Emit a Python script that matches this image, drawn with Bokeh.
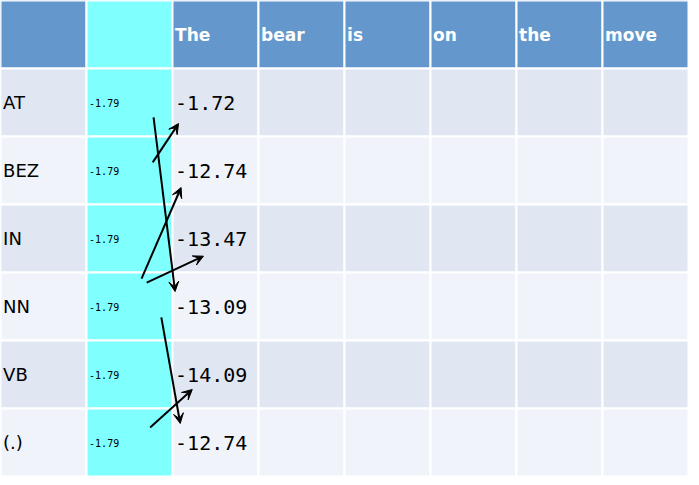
from bokeh.plotting import figure
from bokeh.models import Arrow, VeeHead
from bokeh.embed import file_html
from bokeh.resources import INLINE
from bokeh.core.properties import value

words = ["The", "bear", "is", "on", "the", "move"]
tags = ["AT", "BEZ", "IN", "NN", "VB", "(.)"]
start = [-1.79, -1.79, -1.79, -1.79, -1.79, -1.79]
the_scores = [-1.72, -12.74, -13.47, -13.09, -14.09, -12.74]
# backpointer arrows, in cell units (x0, y0, x1, y1)
arrows = [
    (1.77, 2.38, 2.07, 1.81),
    (1.78, 1.72, 2.03, 4.28),
    (1.64, 4.09, 2.10, 2.75),
    (1.70, 4.15, 2.36, 3.76),
    (1.87, 4.66, 2.09, 6.22),
    (1.74, 6.28, 2.23, 5.72),
]

ncol = 2 + len(words)
nrow = 1 + len(tags)
p = figure(width=688, height=476, x_range=(0, ncol), y_range=(nrow, 0),
           output_backend="svg", toolbar_location=None, min_border=0)
p.axis.visible = False
p.grid.visible = False
p.outline_line_color = None

xs, ys, colors = [], [], []
for r in range(nrow):
    for c in range(ncol):
        xs.append(c + 0.5)
        ys.append(r + 0.5)
        if c == 1:
            colors.append("#80FFFF")
        elif r == 0:
            colors.append("#6497CB")
        elif r % 2 == 1:
            colors.append("#E0E7F2")
        else:
            colors.append("#F0F4FA")
p.rect(xs, ys, width=1, height=1, fill_color=colors, line_color="white", line_width=2)

p.text([c + 2.03 for c in range(len(words))], [0.5] * len(words), text=words,
       text_color="white", text_font=value("DejaVu Sans"), text_font_style="bold",
       text_font_size="17px", text_baseline="middle")
p.text([0.03] * len(tags), [r + 1.5 for r in range(len(tags))], text=tags,
       text_color="black", text_font=value("DejaVu Sans"), text_font_size="18px",
       text_baseline="middle")
p.text([1.03] * len(start), [r + 1.5 for r in range(len(start))],
       text=["%.2f" % v for v in start], text_color="black",
       text_font=value("DejaVu Sans Mono"), text_font_size="10px", text_baseline="middle")
p.text([2.03] * len(the_scores), [r + 1.5 for r in range(len(the_scores))],
       text=["%.2f" % v for v in the_scores], text_color="black",
       text_font=value("DejaVu Sans Mono"), text_font_size="20px", text_baseline="middle")

for x0, y0, x1, y1 in arrows:
    p.add_layout(Arrow(end=VeeHead(size=10, fill_color="black", line_color="black"),
                       x_start=x0, y_start=y0, x_end=x1, y_end=y1,
                       line_width=2, line_color="black"))

open("out.html", "w").write(file_html(p, INLINE))
